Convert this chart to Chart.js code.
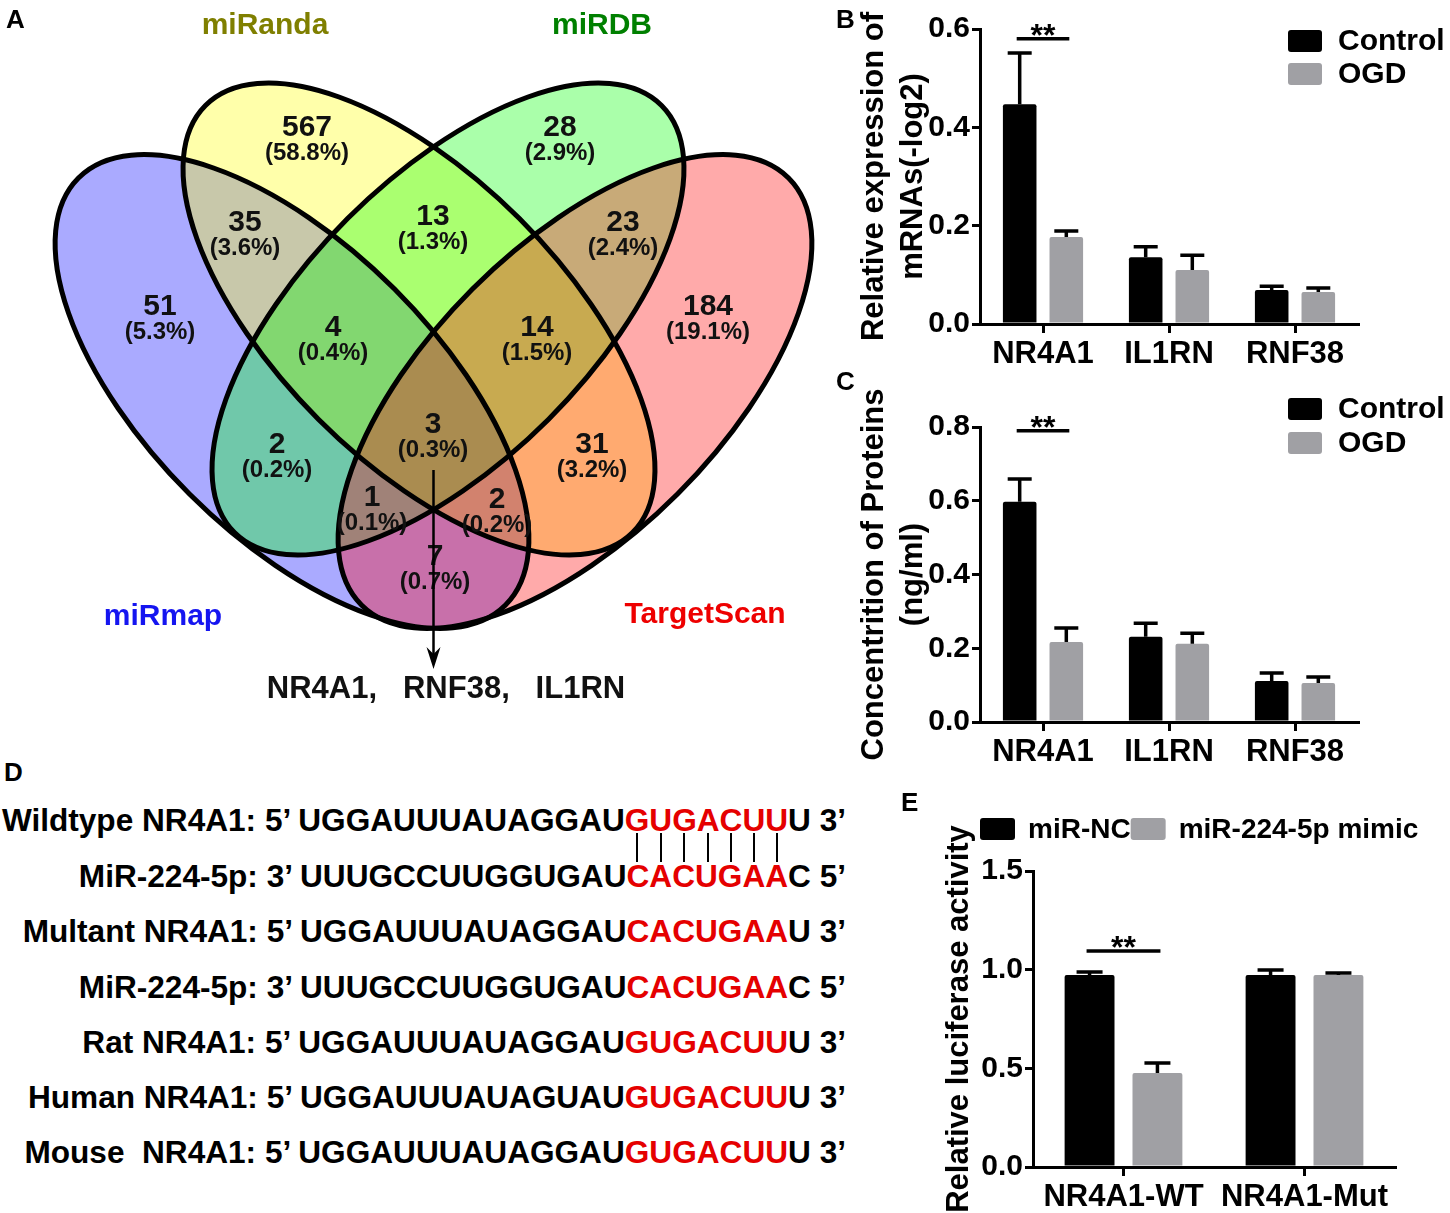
<!DOCTYPE html>
<html>
<head>
<meta charset="utf-8">
<script src="https://cdn.jsdelivr.net/npm/chart.js@4.4.1/dist/chart.umd.min.js"></script>
<style>
  html, body { margin: 0; padding: 0; background: #fff; }
  body { width: 1450px; height: 1213px; position: relative; overflow: hidden;
         font-family: "Liberation Sans", Arial, sans-serif; }
  canvas { position: absolute; }
  .tag { position: absolute; font-weight: bold; font-size: 26px; line-height: 1; }
  .row { position: absolute; left: 0; width: 846px; text-align: right; font-weight: bold;
         font-size: 31.6px; line-height: 32px; white-space: pre; }
  .hit { color: #e50000; }
  .pair { position: absolute; width: 2px; background: #000; }
</style>
</head>
<body>
<canvas id="venn" style="left:0;top:0" width="860" height="720"></canvas>
<canvas id="chartB" style="left:840px;top:0" width="610" height="370"></canvas>
<canvas id="chartC" style="left:840px;top:370px" width="610" height="400"></canvas>
<canvas id="chartE" style="left:900px;top:790px" width="550" height="423"></canvas>
<div id="seq"></div>
<div class="tag" style="left:6px;top:6px">A</div>
<div class="tag" style="left:836px;top:6px">B</div>
<div class="tag" style="left:836px;top:368px">C</div>
<div class="tag" style="left:4px;top:759px">D</div>
<div class="tag" style="left:901px;top:789px">E</div>

<script>
// ---- A: venn counts ----
const setNames = ["miRmap", "miRanda", "miRDB", "TargetScan"]
const regionMembers = [[0], [1], [2], [3], [0, 1], [1, 2], [2, 3], [0, 2], [1, 3], [0, 3],
  [0, 1, 2], [1, 2, 3], [0, 2, 3], [0, 1, 3], [0, 1, 2, 3]]
const regionCounts = [51, 567, 28, 184, 35, 13, 23, 2, 31, 7, 4, 14, 1, 2, 3]
const sharedGenes = ["NR4A1", "RNF38", "IL1RN"]

// ---- B: mRNA ----
const geneLabels = ["NR4A1", "IL1RN", "RNF38"]
const mrnaControl = [0.447, 0.136, 0.069]
const mrnaControlErr = [0.104, 0.021, 0.008]
const mrnaOGD = [0.177, 0.110, 0.065]
const mrnaOGDErr = [0.012, 0.030, 0.008]

// ---- C: protein ----
const proteinControl = [0.597, 0.231, 0.111]
const proteinControlErr = [0.062, 0.037, 0.022]
const proteinOGD = [0.217, 0.212, 0.106]
const proteinOGDErr = [0.038, 0.029, 0.016]

// ---- E: luciferase ----
const lucLabels = ["NR4A1-WT", "NR4A1-Mut"]
const lucNC = [0.973, 0.973]
const lucNCErr = [0.015, 0.025]
const lucMimic = [0.476, 0.973]
const lucMimicErr = [0.051, 0.010]

// ---- D: sequences ----
const seqNames = ["Wildtype NR4A1:", "MiR-224-5p:", "Multant NR4A1:", "MiR-224-5p:", "Rat NR4A1:", "Human NR4A1:", "Mouse  NR4A1:"]
const seqStart = ["5’", "3’", "5’", "3’", "5’", "5’", "5’"]
const seqHead = ["UGGAUUUAUAGGAU", "UUUGCCUUGGUGAU", "UGGAUUUAUAGGAU", "UUUGCCUUGGUGAU", "UGGAUUUAUAGGAU", "UGGAUUUAUAGUAU", "UGGAUUUAUAGGAU"]
const seqSite = ["GUGACUU", "CACUGAA", "CACUGAA", "CACUGAA", "GUGACUU", "GUGACUU", "GUGACUU"]
const seqTail = ["U", "C", "U", "C", "U", "U", "U"]
const seqEnd = ["3’", "5’", "3’", "5’", "3’", "3’", "3’"]

const FONT = "'Liberation Sans', Arial, sans-serif"

// venn layout (in venn units)
const ellipseShapes = [
  { cx: 292, cy: 391.5, a: 302, b: 145, rot: 45 },
  { cx: 419, cy: 319, a: 302, b: 142, rot: 45 },
  { cx: 448, cy: 319, a: 302, b: 142, rot: -45 },
  { cx: 575, cy: 391.5, a: 302, b: 145, rot: -45 },
]
const setColors = ["#1515f0", "#7f7f00", "#008000", "#ee0000"]
const setNameAt = [[163, 617], [265, 26], [602, 26], [705, 615]]
const regionColors = ["#aaaaff", "#ffffaa", "#aaffaa", "#ffaaaa", "#c8c8aa", "#aaff70", "#c8aa78",
  "#70c8aa", "#ffaa70", "#c870aa", "#82d770", "#c8aa50", "#a08278", "#d2826e", "#aa8c50"]
const regionAt = [[160, 307], [307, 128], [560, 128], [708, 307], [245, 223], [433, 217], [623, 223],
  [277, 445], [592, 445], [435, 557], [333, 328], [537, 328], [372, 498], [497, 500], [433, 425]]

const vennPlugin = {
  id: "venn",
  afterDatasetsDraw(chart) {
    const { ctx, scales: { x, y } } = chart
    const px = v => x.getPixelForValue(v)
    const py = v => y.getPixelForValue(v)
    const path = e => {
      ctx.ellipse(px(e.cx), py(e.cy), Math.abs(px(e.cx + e.a) - px(e.cx)),
        Math.abs(py(e.cy + e.b) - py(e.cy)), e.rot * Math.PI / 180, 0, Math.PI * 2)
    }
    const W = chart.width
    const H = chart.height

    regionMembers.forEach((members, r) => {
      ctx.save()
      ellipseShapes.forEach((e, s) => {
        ctx.beginPath()
        if (members.includes(s)) {
          path(e)
          ctx.clip()
        } else {
          ctx.rect(0, 0, W, H)
          path(e)
          ctx.clip("evenodd")
        }
      })
      ctx.fillStyle = regionColors[r]
      ctx.fillRect(0, 0, W, H)
      ctx.restore()
    })

    ctx.save()
    ctx.lineWidth = 5
    ctx.strokeStyle = "#000"
    for (const e of ellipseShapes) {
      ctx.beginPath()
      path(e)
      ctx.stroke()
    }

    const total = regionCounts.reduce((s, v) => s + v, 0)
    ctx.fillStyle = "#111"
    ctx.textAlign = "center"
    ctx.textBaseline = "middle"
    regionCounts.forEach((count, r) => {
      const [ax, ay] = regionAt[r]
      ctx.font = "bold 30px " + FONT
      ctx.fillText(String(count), px(ax), py(ay))
      ctx.font = "bold 24px " + FONT
      ctx.fillText("(" + (count / total * 100).toFixed(1) + "%)", px(ax), py(ay + 25))
    })

    ctx.font = "bold 30px " + FONT
    setNames.forEach((name, s) => {
      ctx.fillStyle = setColors[s]
      ctx.fillText(name, px(setNameAt[s][0]), py(setNameAt[s][1]))
    })

    // arrow to the shared genes
    const ax = px(433.5)
    ctx.strokeStyle = "#000"
    ctx.fillStyle = "#000"
    ctx.lineWidth = 2.5
    ctx.beginPath()
    ctx.moveTo(ax, py(470))
    ctx.lineTo(ax, py(660))
    ctx.stroke()
    ctx.beginPath()
    ctx.moveTo(ax, py(669))
    ctx.lineTo(ax - 7, py(647))
    ctx.lineTo(ax, py(654))
    ctx.lineTo(ax + 7, py(647))
    ctx.closePath()
    ctx.fill()

    ctx.font = "bold 31px " + FONT
    ctx.fillStyle = "#111"
    ctx.fillText(sharedGenes.join(",   "), px(446), py(689))
    ctx.restore()
  },
}

new Chart(document.getElementById("venn"), {
  type: "scatter",
  data: { datasets: [{ data: regionAt.map(([vx, vy]) => ({ x: vx, y: vy })), pointRadius: 0 }] },
  options: {
    responsive: false,
    animation: false,
    layout: { padding: 0 },
    plugins: { legend: { display: false }, tooltip: { enabled: false } },
    scales: {
      x: { type: "linear", min: 0, max: 860, display: false },
      y: { type: "linear", min: 0, max: 720, reverse: true, display: false },
    },
  },
  plugins: [vennPlugin],
})

// ---- bar charts ----
const barExtras = {
  id: "barExtras",
  afterDatasetsDraw(chart, args, opts) {
    const { ctx } = chart
    const yScale = chart.scales.y
    ctx.save()
    ctx.strokeStyle = "#000"
    ctx.lineWidth = 3.5
    chart.data.datasets.forEach((ds, di) => {
      chart.getDatasetMeta(di).data.forEach((bar, i) => {
        const top = yScale.getPixelForValue(ds.data[i] + ds.errors[i])
        ctx.beginPath()
        ctx.moveTo(bar.x, bar.y)
        ctx.lineTo(bar.x, top)
        ctx.moveTo(bar.x - opts.cap / 2, top)
        ctx.lineTo(bar.x + opts.cap / 2, top)
        ctx.stroke()
      })
    })

    // significance
    const a = chart.getDatasetMeta(0).data[opts.sigIndex]
    const b = chart.getDatasetMeta(1).data[opts.sigIndex]
    const sy = yScale.getPixelForValue(opts.sigLevel)
    ctx.beginPath()
    ctx.moveTo(a.x - 3, sy)
    ctx.lineTo(b.x + 3, sy)
    ctx.stroke()
    ctx.fillStyle = "#000"
    ctx.font = "bold 32px " + FONT
    ctx.textAlign = "center"
    ctx.textBaseline = "alphabetic"
    ctx.fillText("**", (a.x + b.x) / 2, sy + 7)

    // legend
    const lg = opts.legend
    ctx.font = "bold " + lg.size + "px " + FONT
    ctx.textAlign = "left"
    ctx.textBaseline = "middle"
    let lx = lg.x
    let ly = lg.y
    chart.data.datasets.forEach(ds => {
      ctx.fillStyle = ds.backgroundColor
      ctx.beginPath()
      ctx.roundRect(lx, ly, lg.boxW, lg.boxH, 3)
      ctx.fill()
      ctx.fillStyle = "#000"
      const tx = lx + lg.boxW + lg.gap
      ctx.fillText(ds.label, tx, ly + lg.boxH / 2 + 1)
      if (lg.horizontal) {
        lx = tx + ctx.measureText(ds.label).width + lg.itemGap
      } else {
        ly += lg.rowStep
      }
    })
    ctx.restore()
  },
}

function barChart(id, labels, sets, cfg) {
  return new Chart(document.getElementById(id), {
    type: "bar",
    data: {
      labels: labels,
      datasets: sets.map(s => ({
        label: s.label,
        data: s.data,
        errors: s.err,
        backgroundColor: s.color,
        borderRadius: 2,
        borderSkipped: "bottom",
        categoryPercentage: cfg.cp,
        barPercentage: cfg.bp,
      })),
    },
    options: {
      responsive: false,
      animation: false,
      layout: { padding: { left: 0, top: cfg.top, right: cfg.right, bottom: 0 } },
      plugins: {
        legend: { display: false },
        tooltip: { enabled: false },
        barExtras: cfg.extras,
      },
      scales: {
        x: {
          z: 1,
          afterFit: s => { s.height = cfg.xHeight },
          grid: { display: true, offset: false, drawOnChartArea: false, drawTicks: true,
                  tickLength: 9, color: "#000", lineWidth: 3 },
          border: { display: true, color: "#000", width: 3 },
          ticks: { color: "#000", padding: 3, font: { family: FONT, size: 31, weight: "bold" } },
        },
        y: {
          min: 0,
          max: cfg.max,
          afterFit: s => { s.width = cfg.yWidth },
          ticks: {
            stepSize: cfg.step, color: "#000", padding: 2,
            font: { family: FONT, size: 30, weight: "bold" },
            callback: v => Number(v).toFixed(1),
          },
          grid: { display: true, drawOnChartArea: false, drawTicks: true, tickLength: 8,
                  color: "#000", lineWidth: 3 },
          border: { display: true, color: "#000", width: 3 },
          title: {
            display: true,
            text: cfg.title,
            color: "#000",
            padding: { top: cfg.titlePad, bottom: 0 },
            font: { family: FONT, size: 31, weight: "bold", lineHeight: 1.26 },
          },
        },
      },
    },
    plugins: [barExtras],
  })
}

const GRAY = "#a0a0a4"

barChart("chartB", geneLabels, [
  { label: "Control", data: mrnaControl, err: mrnaControlErr, color: "#000" },
  { label: "OGD", data: mrnaOGD, err: mrnaOGDErr, color: GRAY },
], {
  cp: 0.74, bp: 0.72, top: 29, right: 92, xHeight: 46, yWidth: 140, max: 0.6, step: 0.2,
  title: ["Relative expression of", "mRNAs(-log2)"], titlePad: 15,
  extras: { cap: 24, sigIndex: 0, sigLevel: 0.58,
            legend: { x: 448, y: 30, boxW: 34, boxH: 22, gap: 16, size: 30, rowStep: 33 } },
})

barChart("chartC", geneLabels, [
  { label: "Control", data: proteinControl, err: proteinControlErr, color: "#000" },
  { label: "OGD", data: proteinOGD, err: proteinOGDErr, color: GRAY },
], {
  cp: 0.74, bp: 0.72, top: 57, right: 92, xHeight: 48, yWidth: 140, max: 0.8, step: 0.2,
  title: ["Concentrition of Proteins", "(ng/ml)"], titlePad: 15,
  extras: { cap: 24, sigIndex: 0, sigLevel: 0.79,
            legend: { x: 448, y: 28, boxW: 34, boxH: 22, gap: 16, size: 30, rowStep: 34 } },
})

barChart("chartE", lucLabels, [
  { label: "miR-NC", data: lucNC, err: lucNCErr, color: "#000" },
  { label: "miR-224-5p mimic", data: lucMimic, err: lucMimicErr, color: GRAY },
], {
  cp: 0.75, bp: 0.735, top: 81, right: 55, xHeight: 46, yWidth: 133, max: 1.5, step: 0.5,
  title: "Relative luciferase activity", titlePad: 40,
  extras: { cap: 26, sigIndex: 0, sigLevel: 1.095,
            legend: { x: 80, y: 28, boxW: 35, boxH: 22, gap: 13, size: 28, itemGap: 0, horizontal: true } },
})

// ---- D: sequence alignment text ----
const seqBox = document.getElementById("seq")
const rowCenters = [820, 876, 931, 987, 1042, 1097, 1152]
seqNames.forEach((name, i) => {
  const row = document.createElement("div")
  row.className = "row"
  row.style.top = (rowCenters[i] - 16) + "px"
  const site = seqSite[i].split("").map(ch => '<span class="hit">' + ch + "</span>").join("")
  row.innerHTML = name + " " + seqStart[i] + " " + seqHead[i] + site + seqTail[i] + " " + seqEnd[i]
  seqBox.appendChild(row)
})

// base-pair ticks between wildtype and miRNA rows
const firstRow = seqBox.children[0]
for (const span of firstRow.querySelectorAll(".hit")) {
  const r = span.getBoundingClientRect()
  const tick = document.createElement("div")
  tick.className = "pair"
  tick.style.left = (r.left + r.width / 2 - 1) + "px"
  tick.style.top = "833px"
  tick.style.height = "29px"
  seqBox.appendChild(tick)
}
</script>
</body>
</html>
